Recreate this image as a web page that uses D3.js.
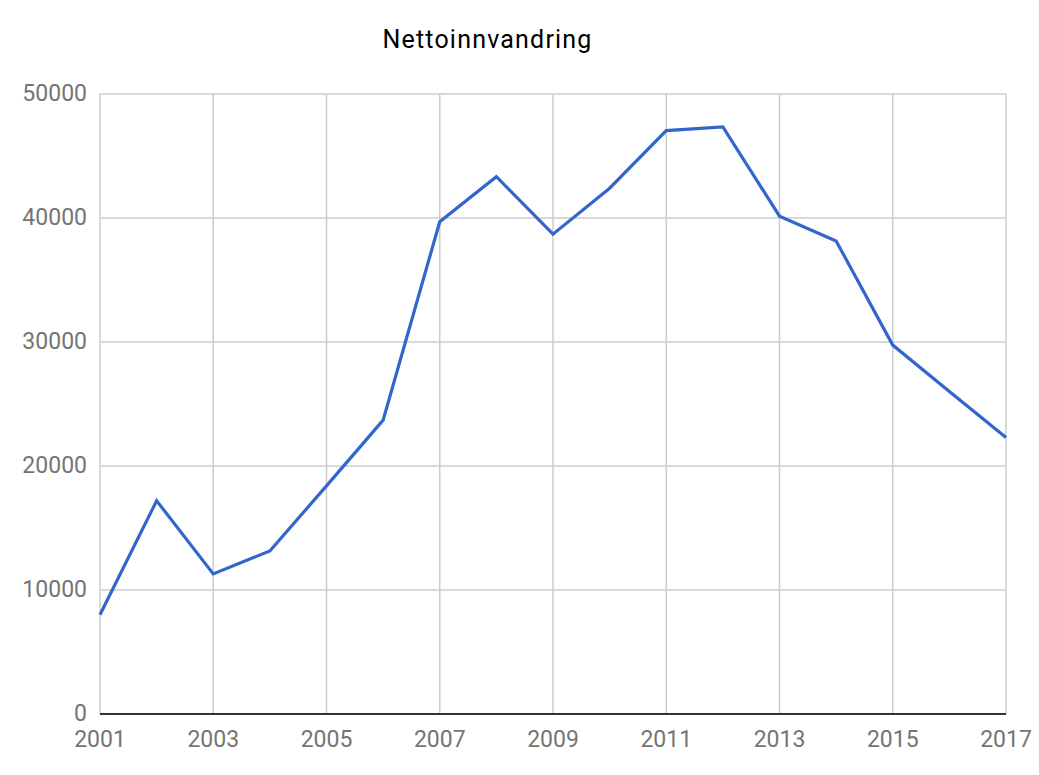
<!DOCTYPE html>
<html>
<head>
<meta charset="utf-8">
<script src="https://cdn.jsdelivr.net/npm/d3@7"></script>
<style>
  body { margin: 0; background: #fff; }
  text { font-family: Roboto, "Noto Sans", sans-serif; }
</style>
</head>
<body>
<svg id="chart"></svg>
<script>
const years = [2001, 2002, 2003, 2004, 2005, 2006, 2007, 2008, 2009,
               2010, 2011, 2012, 2013, 2014, 2015, 2016, 2017];
const values = [8000, 17200, 11300, 13150, 18400, 23700, 39700, 43330, 38700,
                42400, 47050, 47350, 40150, 38150, 29750, 26000, 22300];
const xTicks = [2001, 2003, 2005, 2007, 2009, 2011, 2013, 2015, 2017];
const yTicks = [0, 10000, 20000, 30000, 40000, 50000];
const title = "Nettoinnvandring";

const margin = { top: 94, right: 33, bottom: 61, left: 100 };
const width = 1039 - margin.left - margin.right;
const height = 775 - margin.top - margin.bottom;

const svg = d3.select("#chart")
  .attr("width", 1039)
  .attr("height", 775);

const g = svg.append("g")
  .attr("transform", `translate(${margin.left}, ${margin.top})`);

const x = d3.scaleLinear().domain([2001, 2017]).range([0, width]);
const y = d3.scaleLinear().domain([0, 50000]).range([height, 0]);

// grid
g.selectAll("line.hgrid")
  .data(yTicks.filter(d => d > 0))
  .enter().append("line")
  .attr("class", "hgrid")
  .attr("x1", 0).attr("x2", width)
  .attr("y1", d => y(d)).attr("y2", d => y(d))
  .attr("stroke", "#cccccc").attr("stroke-width", 1.5);

g.selectAll("line.vgrid")
  .data(xTicks)
  .enter().append("line")
  .attr("class", "vgrid")
  .attr("x1", d => x(d)).attr("x2", d => x(d))
  .attr("y1", 0).attr("y2", height)
  .attr("stroke", "#cccccc").attr("stroke-width", 1.5);

// baseline
g.append("line")
  .attr("x1", 0).attr("x2", width)
  .attr("y1", y(0)).attr("y2", y(0))
  .attr("stroke", "#333333").attr("stroke-width", 2);

// y labels
g.selectAll("text.ylab")
  .data(yTicks)
  .enter().append("text")
  .attr("class", "ylab")
  .attr("x", -13)
  .attr("y", d => y(d) + 7)
  .attr("text-anchor", "end")
  .attr("font-size", 23)
  .attr("fill", "#757575")
  .text(d => d);

// x labels
g.selectAll("text.xlab")
  .data(xTicks)
  .enter().append("text")
  .attr("class", "xlab")
  .attr("x", d => x(d))
  .attr("y", height + 33)
  .attr("text-anchor", "middle")
  .attr("font-size", 23)
  .attr("fill", "#757575")
  .text(d => d);

// line
const line = d3.line()
  .x((d, i) => x(years[i]))
  .y(d => y(d));

g.append("path")
  .datum(values)
  .attr("fill", "none")
  .attr("stroke", "#3366cc")
  .attr("stroke-width", 3.2)
  .attr("stroke-linejoin", "miter")
  .attr("d", line);

// title
svg.append("text")
  .attr("x", 487.5)
  .attr("y", 48)
  .attr("text-anchor", "middle")
  .attr("font-size", 25)
  .attr("letter-spacing", 1.2)
  .attr("fill", "#000")
  .text(title);
</script>
</body>
</html>
